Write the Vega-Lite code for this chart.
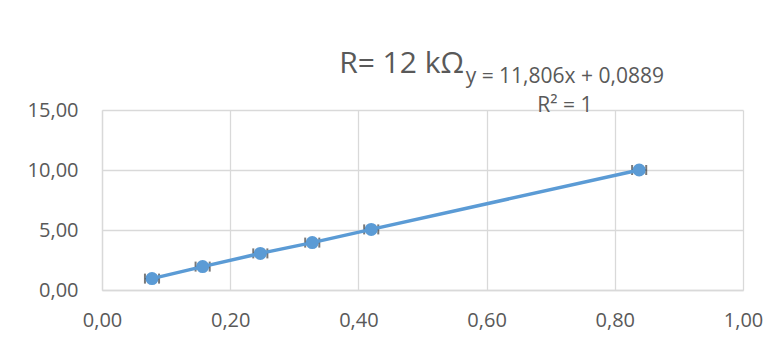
{
  "$schema": "https://vega.github.io/schema/vega-lite/v6.json",
  "width": 641,
  "height": 180,
  "autosize": {"type": "none"},
  "padding": {"left": 102, "top": 110, "right": 38, "bottom": 59},
  "background": "white",
  "title": {
    "text": "R= 12 kΩ",
    "font": "Open Sans",
    "fontSize": 30,
    "fontWeight": "normal",
    "color": "#595959",
    "anchor": "middle",
    "dx": -21,
    "offset": 36,
    "dy": 49
  },
  "config": {
    "locale": {"number": {"decimal": ",", "thousands": ".", "grouping": [3], "currency": ["", " €"]}},
    "view": {"stroke": null},
    "axis": {
      "labelFont": "Open Sans",
      "labelFontSize": 20,
      "labelColor": "#595959",
      "labelFlush": false,
      "gridColor": "#d9d9d9",
      "gridWidth": 1.3,
      "domainColor": "#d9d9d9",
      "domainWidth": 1.3,
      "ticks": false,
      "title": null
    }
  },
  "datasets": {
    "pts": [
      {"x": 0.078, "y": 0.95, "err": 0.011},
      {"x": 0.157, "y": 1.95, "err": 0.011},
      {"x": 0.247, "y": 3.05, "err": 0.011},
      {"x": 0.328, "y": 3.95, "err": 0.011},
      {"x": 0.42, "y": 5.05, "err": 0.011},
      {"x": 0.838, "y": 10.0, "err": 0.011}
    ],
    "labels": [
      {"x": 0.722, "y": 17.75, "text": "y = 11,806x + 0,0889"},
      {"x": 0.722, "y": 15.3, "text": "R² = 1"}
    ]
  },
  "encoding": {
    "y": {"field": "y", "type": "quantitative", "scale": {"domain": [0, 15], "nice": false, "zero": true}, "axis": {"values": [0, 5, 10, 15], "format": ".2f", "labelPadding": 24, "domain": true}}
  },
  "layer": [
    {
      "data": {"name": "pts"},
      "transform": [
        {"calculate": "datum.x - datum.err", "as": "lo"},
        {"calculate": "datum.x + datum.err", "as": "hi"}
      ],
      "mark": {"type": "rule", "color": "#404040", "strokeWidth": 1.5},
      "encoding": {
        "x": {"field": "lo", "type": "quantitative", "scale": {"domain": [0, 1], "nice": false}, "axis": {"values": [0, 0.2, 0.4, 0.6, 0.8, 1], "format": ".2f", "labelPadding": 20, "domain": true}},
        "x2": {"field": "hi"}
      }
    },
    {
      "data": {"name": "pts"},
      "transform": [
        {"calculate": "datum.x - datum.err", "as": "lo"}
      ],
      "mark": {"type": "tick", "orient": "vertical", "color": "#404040", "size": 10, "thickness": 2},
      "encoding": {
        "x": {"field": "lo", "type": "quantitative"}
      }
    },
    {
      "data": {"name": "pts"},
      "transform": [
        {"calculate": "datum.x + datum.err", "as": "hi"}
      ],
      "mark": {"type": "tick", "orient": "vertical", "color": "#404040", "size": 10, "thickness": 2},
      "encoding": {
        "x": {"field": "hi", "type": "quantitative"}
      }
    },
    {
      "data": {"name": "pts"},
      "mark": {"type": "line", "color": "#5B9BD5", "strokeWidth": 3.5},
      "encoding": {
        "x": {"field": "x", "type": "quantitative"}
      }
    },
    {
      "data": {"name": "pts"},
      "mark": {"type": "circle", "color": "#5B9BD5", "opacity": 1, "size": 170},
      "encoding": {
        "x": {"field": "x", "type": "quantitative"}
      }
    },
    {
      "data": {"name": "labels"},
      "mark": {"type": "text", "font": "Open Sans", "fontSize": 21, "color": "#595959", "align": "center", "baseline": "middle", "clip": false},
      "encoding": {
        "x": {"field": "x", "type": "quantitative"},
        "text": {"field": "text"}
      }
    }
  ]
}
